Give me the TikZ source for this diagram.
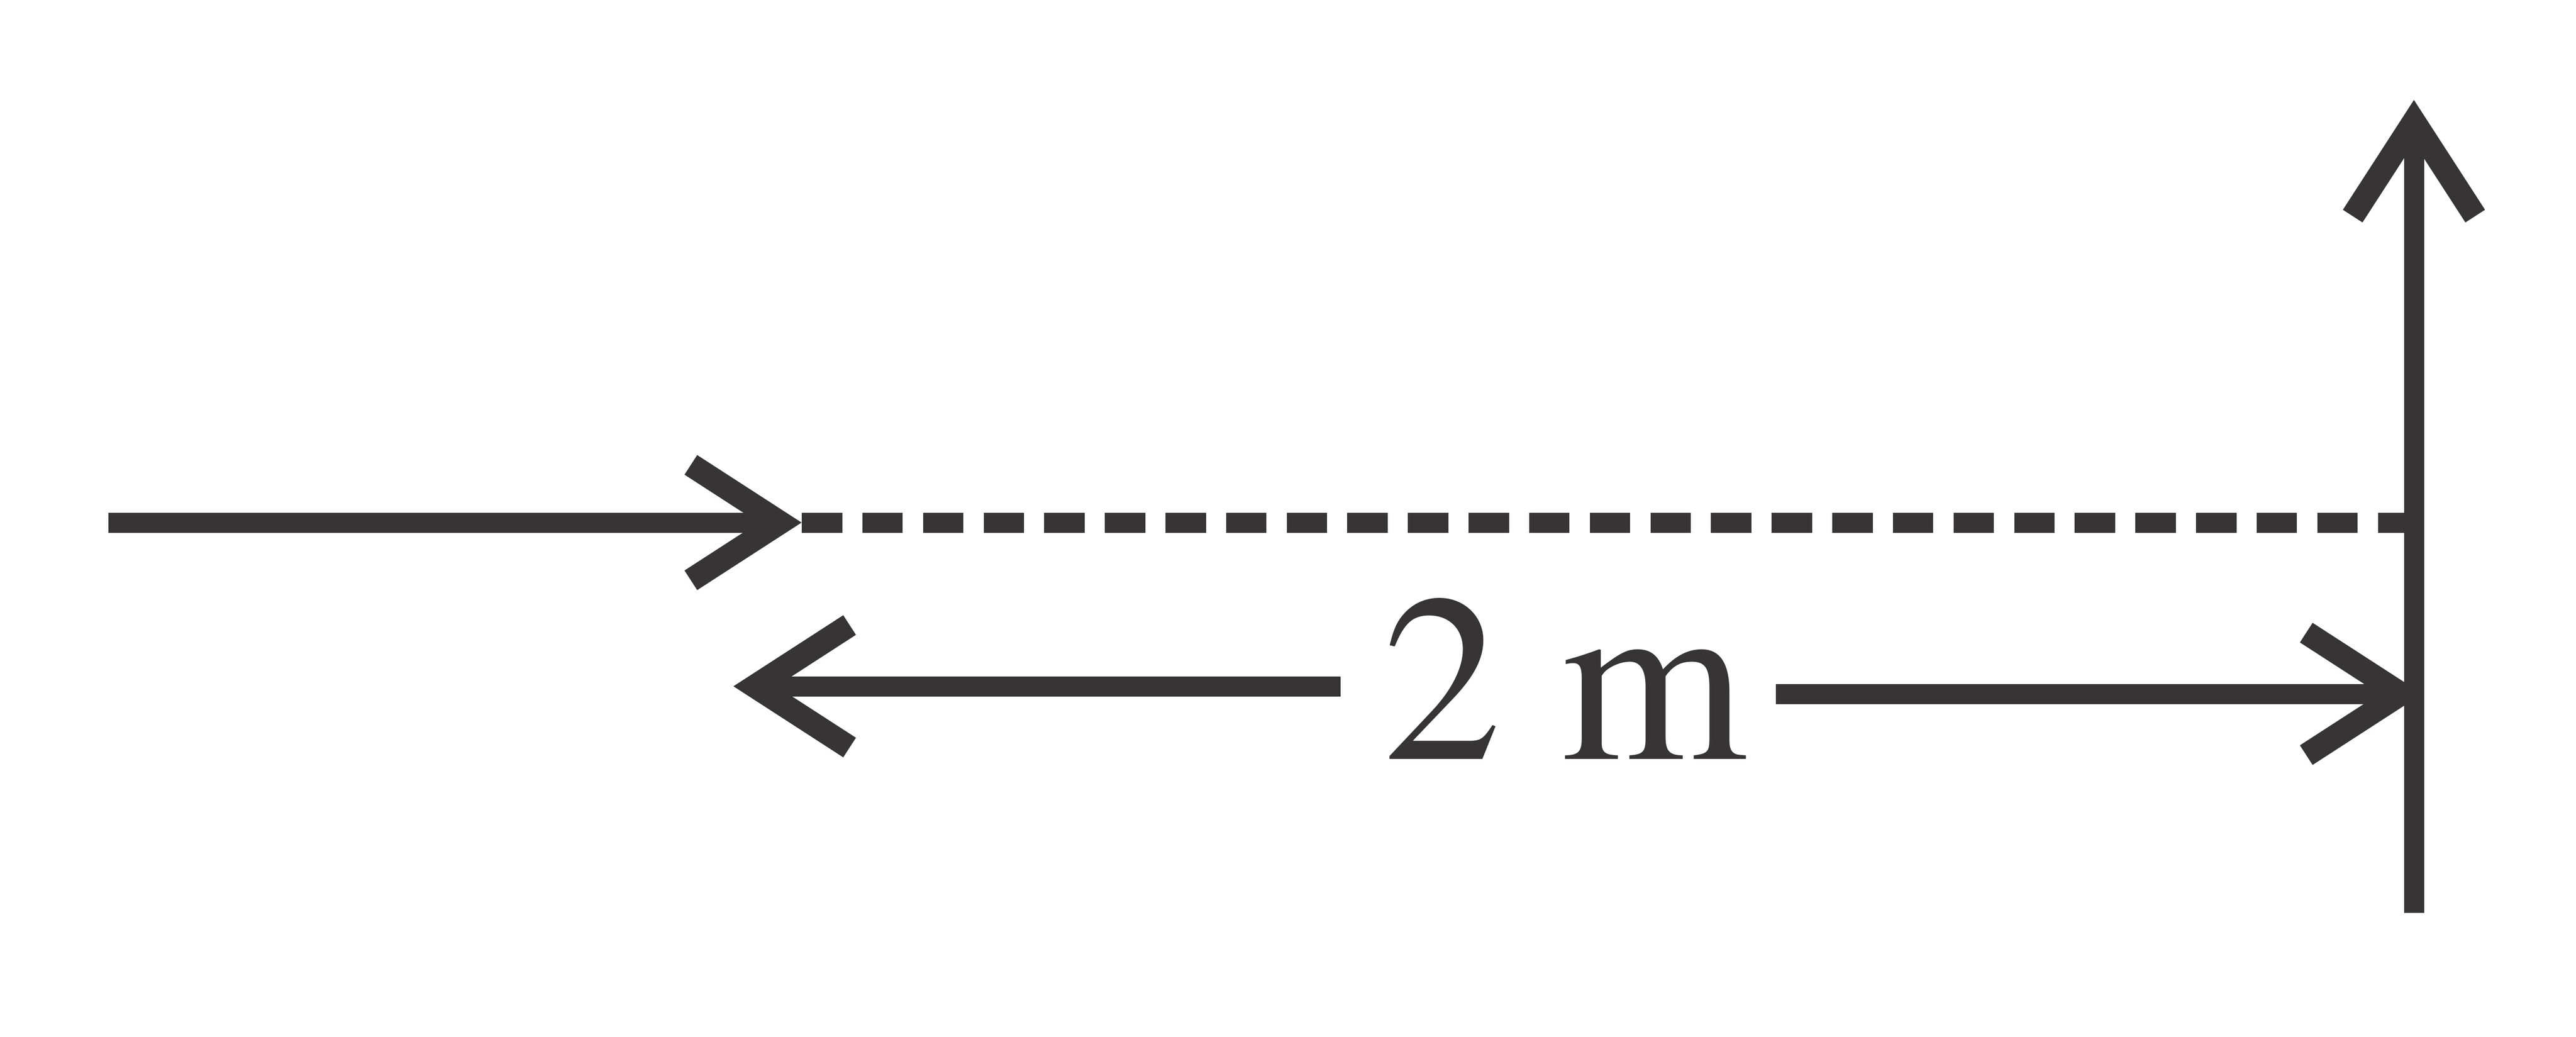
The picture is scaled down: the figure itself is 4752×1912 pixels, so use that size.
\documentclass[tikz,border=0pt]{standalone}
\usepackage{fontspec}
\IfFontExistsTF{texgyretermes-regular.otf}
   {\setmainfont{texgyretermes-regular.otf}}
   {\setmainfont{Liberation Serif}}
\usetikzlibrary{calc}
\definecolor{ink}{HTML}{363435}
\tikzset{
shaft/.style = {draw = ink, line width = 0.37cm},
barb/.style = {draw = ink, line width = 0.43cm, line join = miter},
guide/.style = {draw = ink, line width = 0.37cm,
   dash pattern = on 0.745cm off 0.3726cm},
distlabel/.style = {text = ink, inner sep = 0pt, anchor = base west,
   font = \fontsize{125}{150}\selectfont}
}

\begin{document}
\begin{tikzpicture}[x = 0.01cm, y = -0.01cm]
\useasboundingbox (0,0) rectangle (4752,1912);

%% Incoming ray and its dashed continuation
\coordinate (rayStart) at (200,964);
\coordinate (tipIn) at (1439,964);
\coordinate (dashStart) at (1479,964);
\coordinate (wallHit) at (4435,964);

%% Distance arrows
\coordinate (tipL) at (1392.6,1266);
\coordinate (endL) at (2473,1266);
\coordinate (endR) at (3276,1280);
\coordinate (tipR) at (4429,1280);

%% Wall
\coordinate (wallFoot) at (4453,1684);
\coordinate (wallTop) at (4453,224);

\node [distlabel] (dist) at (2550,1400) {2 m};

\draw [shaft] (rayStart) -- (tipIn);
\draw [guide] (dashStart) -- (wallHit);
\draw [shaft] (endL) -- (tipL);
\draw [shaft] (endR) -- (tipR);

%% Open arrow heads
\foreach \tip/\dir/\len in {tipIn/0/196, tipL/180/208, tipR/0/208, wallTop/270/208} {
   \draw [barb] ($(\tip)+(\dir+147.1:\len)$) -- (\tip) -- ($(\tip)+(\dir+212.9:\len)$);
}

\draw [shaft] (wallFoot) -- (wallTop);

\end{tikzpicture}
\end{document}
